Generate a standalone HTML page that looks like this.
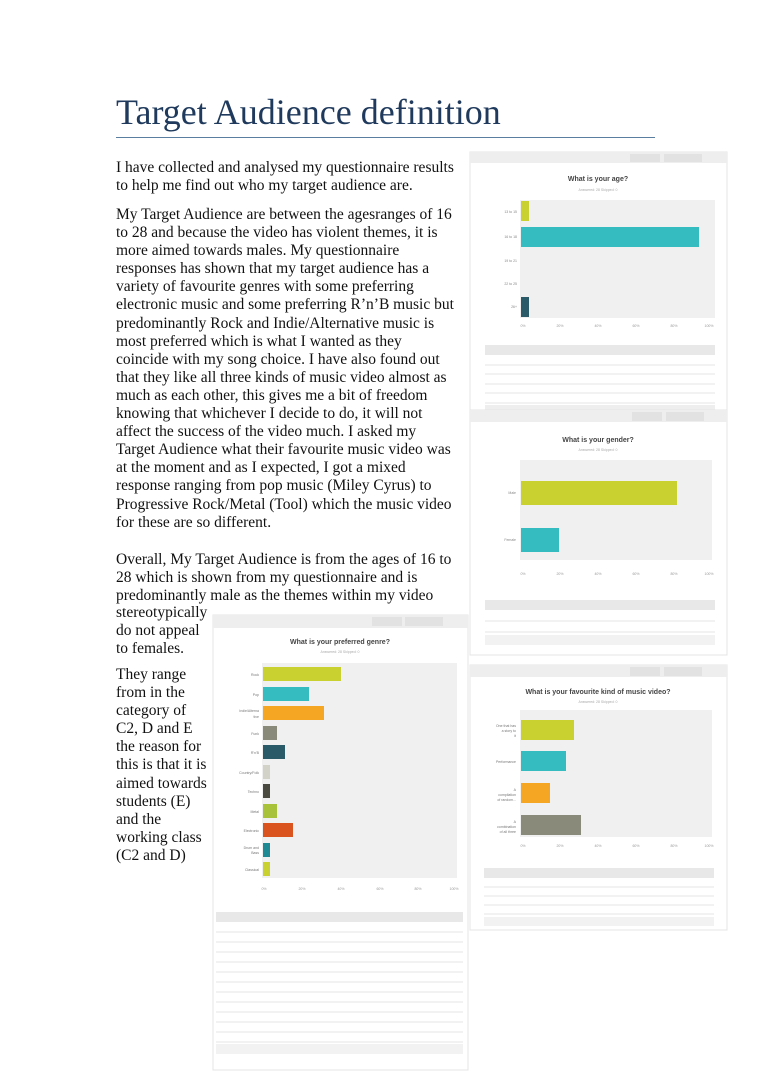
<!DOCTYPE html>
<html><head><meta charset="utf-8"><style>
html,body{margin:0;padding:0;background:#fff;width:768px;height:1087px;overflow:hidden;position:relative}
.t{position:absolute;left:116px;font-family:"Liberation Serif",serif;font-size:15.5px;line-height:18.1px;color:#111;white-space:nowrap}
h1{position:absolute;left:116px;top:91px;margin:0;font-family:"Liberation Serif",serif;font-weight:normal;font-size:36px;color:#1f3a5c}
.rule{position:absolute;left:116px;top:137px;width:539px;height:1px;background:#5a7ea0}
svg{position:absolute;left:0;top:0}
</style></head><body>
<h1>Target Audience definition</h1>
<div class="rule"></div>
<div class="t" style="top:159px">I have collected and analysed my questionnaire results<br>to help me find out who my target audience are.</div>
<div class="t" style="top:206px">My Target Audience are between the agesranges of 16<br>to 28 and because the video has violent themes, it is<br>more aimed towards males. My questionnaire<br>responses has shown that my target audience has a<br>variety of favourite genres with some preferring<br>electronic music and some preferring R’n’B music but<br>predominantly Rock and Indie/Alternative music is<br>most preferred which is what I wanted as they<br>coincide with my song choice. I have also found out<br>that they like all three kinds of music video almost as<br>much as each other, this gives me a bit of freedom<br>knowing that whichever I decide to do, it will not<br>affect the success of the video much. I asked my<br>Target Audience what their favourite music video was<br>at the moment and as I expected, I got a mixed<br>response ranging from pop music (Miley Cyrus) to<br>Progressive Rock/Metal (Tool) which the music video<br>for these are so different.</div>
<div class="t" style="top:551px">Overall, My Target Audience is from the ages of 16 to<br>28 which is shown from my questionnaire and is<br>predominantly male as the themes within my video</div>
<div class="t" style="top:604px">stereotypically<br>do not appeal<br>to females.</div>
<div class="t" style="top:666px">They range<br>from in the<br>category of<br>C2, D and E<br>the reason for<br>this is that it is<br>aimed towards<br>students (E)<br>and the<br>working class<br>(C2 and D)</div>
<svg width="768" height="1087" font-family="Liberation Sans,sans-serif">
<!-- Age -->
<g>
<rect x="470" y="152" width="257" height="258" fill="#fff" stroke="#e4e4e4"/>
<rect x="470" y="152" width="257" height="11" fill="#eeeeee"/>
<rect x="630" y="154" width="30" height="8" fill="#e2e2e2"/><rect x="664" y="154" width="38" height="8" fill="#e2e2e2"/>
<text x="598" y="181" font-size="7" font-weight="bold" fill="#444" text-anchor="middle">What is your age?</text>
<text x="598" y="191" font-size="3.5" fill="#aaa" text-anchor="middle">Answered: 28   Skipped: 0</text>
<rect x="520" y="200" width="195" height="118" fill="#f0f0f0"/>
<rect x="521" y="201" width="8" height="20" fill="#c8d12f"/>
<rect x="521" y="227" width="178" height="20" fill="#35bcc0"/>
<rect x="521" y="297" width="8" height="20" fill="#2a5968"/>
<g font-size="3.5" fill="#888" text-anchor="end"><text x="517" y="213">13 to 15</text><text x="517" y="238">16 to 18</text><text x="517" y="262">19 to 21</text><text x="517" y="285">22 to 25</text><text x="517" y="308">26+</text></g>
<g font-size="3.5" fill="#999" text-anchor="middle"><text x="523" y="327">0%</text><text x="560" y="327">20%</text><text x="598" y="327">40%</text><text x="636" y="327">60%</text><text x="674" y="327">80%</text><text x="709" y="327">100%</text></g>
<rect x="485" y="345" width="230" height="10" fill="#e8e8e8"/>
<g stroke="#e6e6e6"><line x1="485" y1="365" x2="715" y2="365"/><line x1="485" y1="374" x2="715" y2="374"/><line x1="485" y1="384" x2="715" y2="384"/><line x1="485" y1="393" x2="715" y2="393"/><line x1="485" y1="403" x2="715" y2="403"/></g>
<rect x="485" y="405" width="230" height="5" fill="#eee"/>
</g>
<!-- Gender -->
<g>
<rect x="470" y="410" width="257" height="245" fill="#fff" stroke="#e4e4e4"/>
<rect x="470" y="410" width="257" height="12" fill="#eeeeee"/>
<rect x="632" y="412" width="30" height="9" fill="#e2e2e2"/><rect x="666" y="412" width="38" height="9" fill="#e2e2e2"/>
<text x="598" y="442" font-size="7" font-weight="bold" fill="#444" text-anchor="middle">What is your gender?</text>
<text x="598" y="451" font-size="3.5" fill="#aaa" text-anchor="middle">Answered: 28   Skipped: 0</text>
<rect x="520" y="460" width="192" height="100" fill="#f0f0f0"/>
<rect x="521" y="481" width="156" height="24" fill="#c8d12f"/>
<rect x="521" y="528" width="38" height="24" fill="#35bcc0"/>
<g font-size="3.5" fill="#888" text-anchor="end"><text x="516" y="494">Male</text><text x="516" y="541">Female</text></g>
<g font-size="3.5" fill="#999" text-anchor="middle"><text x="523" y="575">0%</text><text x="560" y="575">20%</text><text x="598" y="575">40%</text><text x="636" y="575">60%</text><text x="674" y="575">80%</text><text x="709" y="575">100%</text></g>
<rect x="485" y="600" width="230" height="10" fill="#e8e8e8"/>
<g stroke="#e6e6e6"><line x1="485" y1="621" x2="715" y2="621"/><line x1="485" y1="632" x2="715" y2="632"/></g>
<rect x="485" y="635" width="230" height="10" fill="#f2f2f2"/>
</g>
<!-- Genre -->
<g>
<rect x="213" y="615" width="255" height="455" fill="#fff" stroke="#e4e4e4"/>
<rect x="213" y="615" width="255" height="13" fill="#eeeeee"/>
<rect x="372" y="617" width="30" height="9" fill="#e2e2e2"/><rect x="405" y="617" width="38" height="9" fill="#e2e2e2"/>
<text x="340" y="644" font-size="7" font-weight="bold" fill="#444" text-anchor="middle">What is your preferred genre?</text>
<text x="340" y="653" font-size="3.5" fill="#aaa" text-anchor="middle">Answered: 28   Skipped: 0</text>
<rect x="262" y="663" width="195" height="215" fill="#f0f0f0"/>
<rect x="263" y="667" width="78" height="14" fill="#c8d12f"/>
<rect x="263" y="687" width="46" height="14" fill="#35bcc0"/>
<rect x="263" y="706" width="61" height="14" fill="#f5a623"/>
<rect x="263" y="726" width="14" height="14" fill="#8a8a7a"/>
<rect x="263" y="745" width="22" height="14" fill="#2a5968"/>
<rect x="263" y="765" width="7" height="14" fill="#d2d2c8"/>
<rect x="263" y="784" width="7" height="14" fill="#4a4a40"/>
<rect x="263" y="804" width="14" height="14" fill="#a8c23a"/>
<rect x="263" y="823" width="30" height="14" fill="#d9541e"/>
<rect x="263" y="843" width="7" height="14" fill="#1f8a94"/>
<rect x="263" y="862" width="7" height="14" fill="#c8d12f"/>
<g font-size="3.5" fill="#777" text-anchor="end"><text x="259" y="676">Rock</text><text x="259" y="696">Pop</text><text x="259" y="712">Indie/Alterna</text><text x="259" y="718">tive</text><text x="259" y="735">Funk</text><text x="259" y="754">R'n'B</text><text x="259" y="774">Country/Folk</text><text x="259" y="793">Techno</text><text x="259" y="813">Metal</text><text x="259" y="832">Electronic</text><text x="259" y="849">Drum and</text><text x="259" y="854">Bass</text><text x="259" y="871">Classical</text></g>
<g font-size="3.5" fill="#999" text-anchor="middle"><text x="264" y="890">0%</text><text x="302" y="890">20%</text><text x="341" y="890">40%</text><text x="380" y="890">60%</text><text x="418" y="890">80%</text><text x="454" y="890">100%</text></g>
<rect x="216" y="912" width="247" height="10" fill="#e8e8e8"/>
<g stroke="#e6e6e6"><line x1="216" y1="932" x2="463" y2="932"/><line x1="216" y1="942" x2="463" y2="942"/><line x1="216" y1="952" x2="463" y2="952"/><line x1="216" y1="962" x2="463" y2="962"/><line x1="216" y1="972" x2="463" y2="972"/><line x1="216" y1="982" x2="463" y2="982"/><line x1="216" y1="992" x2="463" y2="992"/><line x1="216" y1="1002" x2="463" y2="1002"/><line x1="216" y1="1012" x2="463" y2="1012"/><line x1="216" y1="1022" x2="463" y2="1022"/><line x1="216" y1="1032" x2="463" y2="1032"/><line x1="216" y1="1042" x2="463" y2="1042"/></g>
<rect x="216" y="1044" width="247" height="10" fill="#f2f2f2"/>
</g>
<!-- Music video -->
<g>
<rect x="470" y="665" width="257" height="265" fill="#fff" stroke="#e4e4e4"/>
<rect x="470" y="665" width="257" height="12" fill="#eeeeee"/>
<rect x="630" y="667" width="30" height="9" fill="#e2e2e2"/><rect x="664" y="667" width="38" height="9" fill="#e2e2e2"/>
<text x="598" y="694" font-size="7" font-weight="bold" fill="#444" text-anchor="middle">What is your favourite kind of music video?</text>
<text x="598" y="703" font-size="3.5" fill="#aaa" text-anchor="middle">Answered: 28   Skipped: 0</text>
<rect x="520" y="710" width="192" height="127" fill="#f0f0f0"/>
<rect x="521" y="720" width="53" height="20" fill="#c8d12f"/>
<rect x="521" y="751" width="45" height="20" fill="#35bcc0"/>
<rect x="521" y="783" width="29" height="20" fill="#f5a623"/>
<rect x="521" y="815" width="60" height="20" fill="#8a8a7a"/>
<g font-size="3.5" fill="#777" text-anchor="end"><text x="516" y="727">One that has</text><text x="516" y="732">a story to</text><text x="516" y="737">it</text><text x="516" y="763">Performance</text><text x="516" y="791">A</text><text x="516" y="796">compilation</text><text x="516" y="801">of random...</text><text x="516" y="823">A</text><text x="516" y="828">combination</text><text x="516" y="833">of all three</text></g>
<g font-size="3.5" fill="#999" text-anchor="middle"><text x="523" y="847">0%</text><text x="560" y="847">20%</text><text x="598" y="847">40%</text><text x="636" y="847">60%</text><text x="674" y="847">80%</text><text x="709" y="847">100%</text></g>
<rect x="484" y="868" width="230" height="10" fill="#e8e8e8"/>
<g stroke="#e6e6e6"><line x1="484" y1="887" x2="714" y2="887"/><line x1="484" y1="896" x2="714" y2="896"/><line x1="484" y1="905" x2="714" y2="905"/><line x1="484" y1="914" x2="714" y2="914"/></g>
<rect x="484" y="917" width="230" height="9" fill="#f2f2f2"/>
</g>
</svg>
</body></html>
